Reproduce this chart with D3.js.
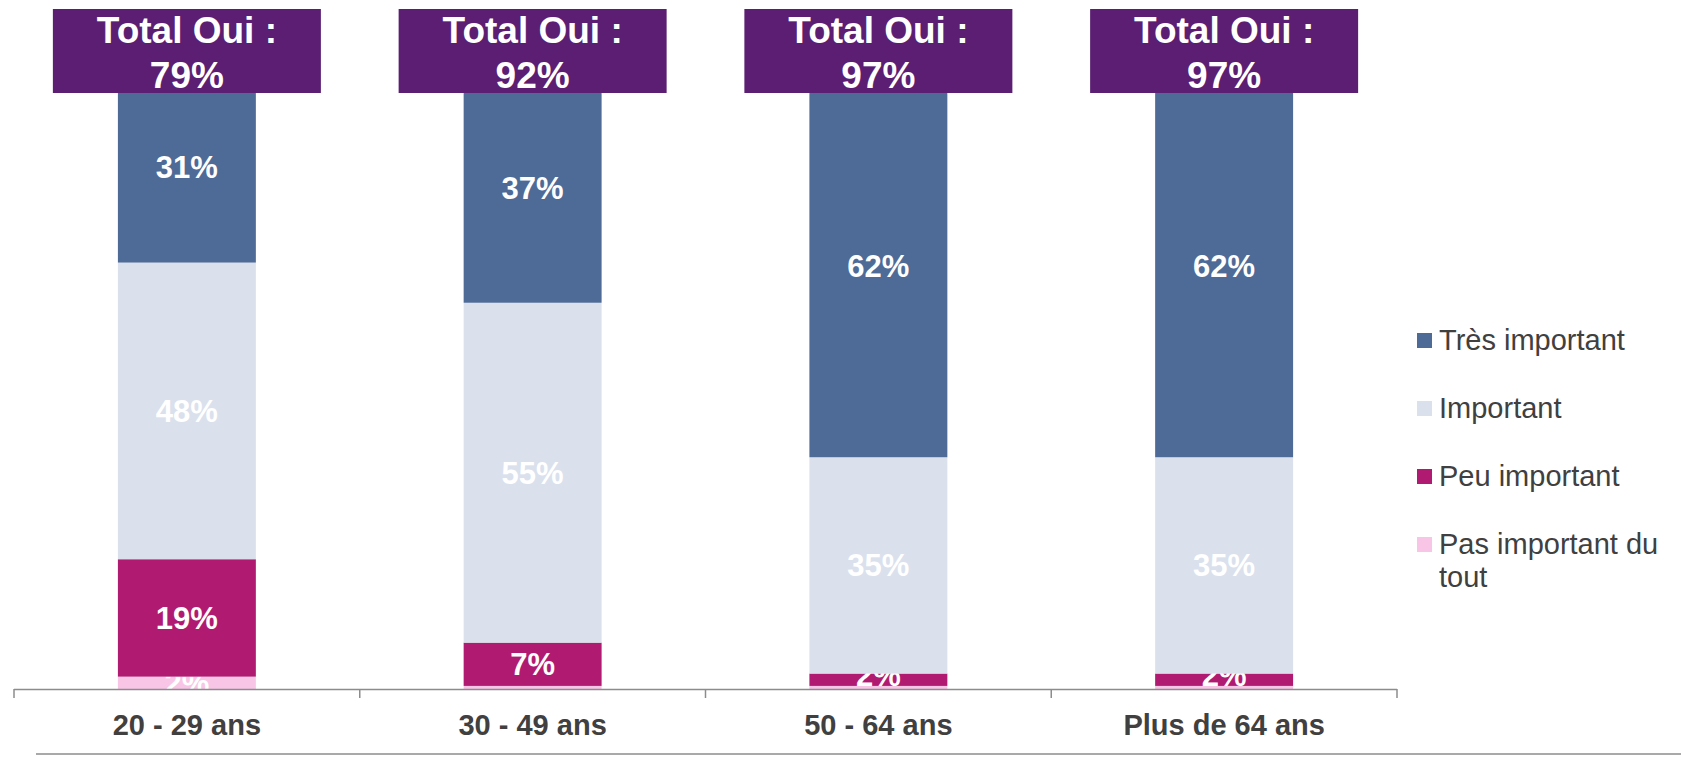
<!DOCTYPE html>
<html>
<head>
<meta charset="utf-8">
<script src="https://cdn.jsdelivr.net/npm/d3@7"></script>
<style>
  body { margin: 0; background: #fff; }
  svg { display: block; font-family: "Liberation Sans", Arial, sans-serif; }
</style>
</head>
<body>
<svg id="chart" width="1681" height="757"></svg>
<script>
// data (percent)
var categories = ["20 - 29 ans", "30 - 49 ans", "50 - 64 ans", "Plus de 64 ans"];
var seriesNames = ["Très important", "Important", "Peu important", "Pas important du tout"];
var tresImportant = [31, 37, 62, 62];
var important = [48, 55, 35, 35];
var peuImportant = [19, 7, 2, 2];
var pasImportant = [2, 0.5, 0.5, 0.5];
var totalOui = [79, 92, 97, 97];

var colors = ["#4e6a97", "#dae1ed", "#b01a71", "#f8c5e6"];

var svg = d3.select("#chart");

var rows = categories.map(function(c, i) {
  return {
    cat: c,
    "Très important": tresImportant[i],
    "Important": important[i],
    "Peu important": peuImportant[i],
    "Pas important du tout": pasImportant[i]
  };
});

// stacked from the bottom up
var keys = seriesNames.slice().reverse();
var stack = d3.stack().keys(keys)(rows);

var x = d3.scaleBand()
    .domain(categories)
    .range([14, 1397])
    .paddingInner(0.601)
    .paddingOuter(0.3005);

var y = d3.scaleLinear()
    .domain([0, 100])
    .range([689, 71]);

var color = d3.scaleOrdinal().domain(seriesNames).range(colors);

var layer = svg.append("g").selectAll("g")
  .data(stack)
  .enter().append("g")
    .attr("fill", function(d) { return color(d.key); });

layer.selectAll("rect")
  .data(function(d) { return d; })
  .enter().append("rect")
    .attr("x", function(d) { return x(d.data.cat); })
    .attr("width", x.bandwidth())
    .attr("y", function(d) { return y(d[1]); })
    .attr("height", function(d) { return y(d[0]) - y(d[1]); });

// value labels, centred in each segment
layer.selectAll("text")
  .data(function(d) { return d.filter(function(p) { return p[1] - p[0] >= 1; }); })
  .enter().append("text")
    .attr("x", function(d) { return x(d.data.cat) + x.bandwidth() / 2; })
    .attr("y", function(d) {
      var c = (y(d[0]) + y(d[1])) / 2;
      return (d[0] > 0 && d[1] - d[0] < 3 ? c - 5 : c) + 11;
    })
    .attr("text-anchor", "middle")
    .attr("fill", "#fff")
    .style("font-size", "31px")
    .style("font-weight", "bold")
    .text(function(d) { return Math.round(d[1] - d[0]) + "%"; });

// axis line with ticks at band edges
var axis = svg.append("g");
axis.append("line")
  .attr("x1", x.range()[0]).attr("x2", x.range()[1])
  .attr("y1", 689.5).attr("y2", 689.5)
  .attr("stroke", "#8c8c8c").attr("stroke-width", 1.5);

var edges = categories.map(function(c) { return x(c) - x.step() * x.paddingInner() / 2; });
edges.push(x.range()[1]);
axis.selectAll(".tick")
  .data(edges)
  .enter().append("line")
    .attr("x1", function(d) { return d; }).attr("x2", function(d) { return d; })
    .attr("y1", 689).attr("y2", 698)
    .attr("stroke", "#8c8c8c").attr("stroke-width", 1.5);

axis.selectAll(".lab")
  .data(categories)
  .enter().append("text")
    .attr("x", function(d) { return x(d) + x.bandwidth() / 2; })
    .attr("y", 735)
    .attr("text-anchor", "middle")
    .attr("fill", "#404040")
    .style("font-size", "29px")
    .style("font-weight", "bold")
    .text(function(d) { return d; });

// bottom rule
svg.append("line")
  .attr("x1", 36).attr("x2", 1681)
  .attr("y1", 754).attr("y2", 754)
  .attr("stroke", "#8c8c8c").attr("stroke-width", 1.5);

// "Total Oui" boxes over the bar tops
var boxes = svg.append("g").selectAll("g")
  .data(categories)
  .enter().append("g")
    .attr("transform", function(d) { return "translate(" + (x(d) + x.bandwidth() / 2) + ",0)"; });

boxes.append("rect")
  .attr("x", -134).attr("width", 268)
  .attr("y", 9).attr("height", 84)
  .attr("fill", "#5b1e72");

boxes.append("text")
  .attr("text-anchor", "middle")
  .attr("fill", "#fff")
  .style("font-size", "37px")
  .style("font-weight", "bold")
  .selectAll("tspan")
  .data(function(d, i) { return ["Total Oui :", totalOui[i] + "%"]; })
  .enter().append("tspan")
    .attr("x", 0)
    .attr("y", function(d, i) { return 43 + i * 45; })
    .text(function(d) { return d; });

// legend
var legend = svg.append("g").attr("transform", "translate(1417,333)");
var item = legend.selectAll("g")
  .data(seriesNames)
  .enter().append("g")
    .attr("transform", function(d, i) { return "translate(0," + i * 68 + ")"; });

item.append("rect")
  .attr("width", 15).attr("height", 15)
  .attr("fill", function(d) { return color(d); });

item.append("text")
  .attr("fill", "#404040")
  .style("font-size", "29px")
  .selectAll("tspan")
  .data(function(d) { return d === "Pas important du tout" ? ["Pas important du", "tout"] : [d]; })
  .enter().append("tspan")
    .attr("x", 22)
    .attr("y", function(d, i) { return 17 + i * 33; })
    .text(function(d) { return d; });
</script>
</body>
</html>
